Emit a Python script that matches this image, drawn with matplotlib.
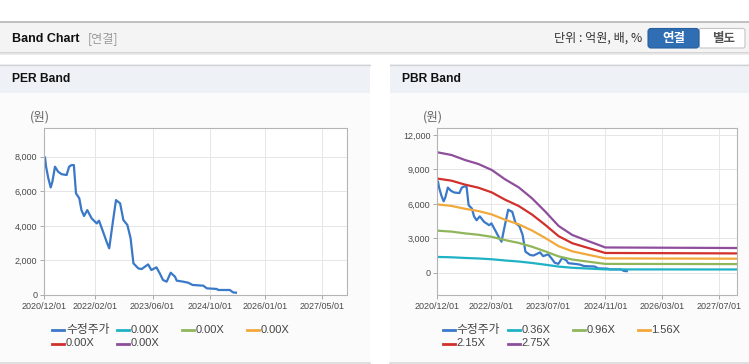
import matplotlib
matplotlib.use('Agg')
import matplotlib.pyplot as plt
from matplotlib.patches import Rectangle, FancyBboxPatch
from matplotlib.lines import Line2D
import numpy as np
import pandas as pd

KR = ['Noto Sans CJK KR', 'DejaVu Sans']
NUM = ['Liberation Sans', 'DejaVu Sans']
W, H = 749, 364

# adjusted share price (원)
price_dates = ['2020-12-01', '2020-12-07', '2020-12-16', '2021-01-04', '2021-01-24',
               '2021-02-07', '2021-03-01', '2021-03-28', '2021-04-25', '2021-06-07',
               '2021-06-28', '2021-07-19', '2021-08-07', '2021-08-25', '2021-09-22',
               '2021-10-10', '2021-11-01', '2021-11-28', '2022-01-04', '2022-02-16',
               '2022-03-07', '2022-04-10', '2022-05-10', '2022-06-01', '2022-06-28',
               '2022-07-28', '2022-09-01', '2022-09-28', '2022-11-01', '2022-11-28',
               '2022-12-22', '2023-02-01', '2023-03-01', '2023-04-25', '2023-05-22',
               '2023-07-04', '2023-08-01', '2023-08-28', '2023-09-28', '2023-11-01',
               '2023-12-07', '2023-12-22', '2024-02-15', '2024-03-28', '2024-05-04',
               '2024-08-01', '2024-09-01', '2024-11-22', '2024-12-07', '2025-03-13',
               '2025-04-10', '2025-05-04']
price_values = [8000, 7950, 7420, 6745, 6220,
                6550, 7420, 7130, 6990, 6940,
                7420, 7515, 7515, 5880, 5590,
                4910, 4570, 4910, 4430, 4140,
                4300, 3660, 3080, 2700, 4050,
                5490, 5300, 4340, 4050, 3280,
                1830, 1540, 1500, 1770, 1445,
                1600, 1250, 870, 770, 1290,
                1060, 830, 770, 710, 580,
                540, 385, 350, 290, 290,
                150, 135]

# book value per share used for the PBR bands
bps_dates = ['2020-12-01', '2021-04-01', '2021-07-25', '2021-11-16', '2022-03-10',
             '2022-07-01', '2022-10-25', '2023-02-16', '2023-06-10', '2023-10-01',
             '2024-01-25', '2024-05-16', '2024-09-07', '2024-11-01', '2027-12-01']
bps_values = [3816, 3730, 3571, 3445, 3255,
              2960, 2706, 2357, 1933, 1480,
              1195, 1036, 878, 800, 782]

pbr_multiples = [0.36, 0.96, 1.56, 2.15, 2.75]
per_multiples = [0.00, 0.00, 0.00, 0.00, 0.00]
price_label = '수정주가'
price_color = '#3a78c8'
band_colors = ['#1fb2c4', '#8fb65a', '#f2a93b', '#d1302c', '#8e4e9c']

per_xticks = ['2020/12/01', '2022/02/01', '2023/06/01', '2024/10/01', '2026/01/01', '2027/05/01']
pbr_xticks = ['2020/12/01', '2022/03/01', '2023/07/01', '2024/11/01', '2026/03/01', '2027/07/01']
per_yticks = [0, 2000, 4000, 6000, 8000]
pbr_yticks = [0, 3000, 6000, 9000, 12000]


def px_axes(fig, x0, y0, x1, y1, **kw):
    return fig.add_axes([x0 / W, 1 - y1 / H, (x1 - x0) / W, (y1 - y0) / H], **kw)


def style_axes(ax, xticks, yticks, xlim, ylim):
    ax.set_xlim(pd.to_datetime(xlim))
    ax.set_ylim(ylim)
    ax.set_xticks(pd.to_datetime(xticks))
    ax.set_xticklabels(xticks, fontsize=6.5, family=NUM, color='#4a4a4a')
    ax.set_yticks(yticks)
    ax.set_yticklabels(['{:,}'.format(v) for v in yticks], fontsize=6.5, family=NUM, color='#4a4a4a')
    ax.tick_params(axis='both', length=3, width=0.7, color='#aaaaaa', pad=2)
    ax.grid(True, color='#e6e6e6', linewidth=0.7)
    ax.set_axisbelow(True)
    for sp in ax.spines.values():
        sp.set_color('#b4b4b4')
        sp.set_linewidth(0.8)
    ax.set_facecolor('white')


def draw_legend(bg, x0, y0, labels, colors):
    for i, (lab, col) in enumerate(zip(labels, colors)):
        x = x0 + (i % 4) * 65
        y = y0 + (i // 4) * 13.5
        bg.add_line(Line2D([x, x + 12], [y, y], color=col, linewidth=2))
        if lab == price_label:
            bg.text(x + 14, y, lab, fontsize=8.5, family=KR, color='#444444',
                    va='center', ha='left')
        else:
            bg.text(x + 13.5, y, lab, fontsize=8, family=NUM, color='#444444',
                    va='center', ha='left')


def draw_panel(bg, x0, x1, title):
    bg.add_patch(Rectangle((x0, 93), x1 - x0, 269, facecolor='#fbfbfb', edgecolor='none'))
    bg.add_patch(Rectangle((x0, 64), x1 - x0, 29, facecolor='#eef2f7', edgecolor='none'))
    bg.add_line(Line2D([x0, x1], [64.5, 64.5], color='#d2d2d2', linewidth=1))
    bg.add_line(Line2D([x0, x1], [362.5, 362.5], color='#d9d9d9', linewidth=1.2))
    bg.text(x0 + 12, 79.5, title, fontsize=8.7, fontweight='bold', family=NUM,
            color='#111111', va='center', ha='left')
    bg.text(x0 + 40 if x0 == 0 else x0 + 43, 117.5, '(원)', fontsize=9, family=KR,
            color='#666666', va='center', ha='center')


fig = plt.figure(figsize=(W / 100, H / 100), dpi=100)
fig.patch.set_facecolor('white')

bg = fig.add_axes([0, 0, 1, 1], zorder=0)
bg.set_xlim(0, W)
bg.set_ylim(H, 0)
bg.axis('off')

# top header bar
bg.add_patch(Rectangle((0, 22), W, 30.5, facecolor='#f4f4f4', edgecolor='none'))
bg.add_line(Line2D([0, W], [22.3, 22.3], color='#b5b5b5', linewidth=1.2))
bg.add_line(Line2D([0, W], [53, 53], color='#cfcfcf', linewidth=1.2))
bg.add_line(Line2D([0, W], [54.3, 54.3], color='#e8e8e8', linewidth=1.2))
bg.text(12, 38.5, 'Band Chart', fontsize=9, fontweight='bold', family=NUM,
        color='#111111', va='center', ha='left')
bg.text(88, 38.5, '[연결]', fontsize=8.7, family=KR, color='#999999', va='center', ha='left')
bg.text(642, 38.5, '단위 : 억원, 배, %', fontsize=8.7, family=KR, color='#333333',
        va='center', ha='right')
bg.add_patch(FancyBboxPatch((699, 28.5), 46, 19.5, boxstyle='round,pad=0,rounding_size=2',
                            facecolor='white', edgecolor='#c4c4c4', linewidth=0.8))
bg.add_patch(FancyBboxPatch((648, 28.5), 51, 19.5, boxstyle='round,pad=0,rounding_size=3',
                            facecolor='#2f6eb3', edgecolor='#285f9c', linewidth=0.8))
bg.text(673.5, 38.5, '연결', fontsize=9, fontweight='bold', family=KR, color='white',
        va='center', ha='center')
bg.text(724, 38.5, '별도', fontsize=9, fontweight='bold', family=KR, color='#555555',
        va='center', ha='center')

draw_panel(bg, 0, 370, 'PER Band')
draw_panel(bg, 390, W, 'PBR Band')

p_dates = pd.to_datetime(price_dates)
b_dates = pd.to_datetime(bps_dates)

# PER band
ax1 = px_axes(fig, 44.3, 128, 347.3, 295, zorder=2)
ax1.plot(p_dates, price_values, color=price_color, linewidth=1.6)
style_axes(ax1, per_xticks, per_yticks, ['2020-12-01', '2027-11-28'], (0, 9660))
draw_legend(bg, 52, 330, [price_label] + ['{:.2f}X'.format(m) for m in per_multiples],
            [price_color] + band_colors)

# PBR band
ax2 = px_axes(fig, 437.3, 128, 737.3, 295, zorder=2)
ax2.plot(p_dates, price_values, color=price_color, linewidth=1.6)
for m, c in zip(pbr_multiples, band_colors):
    ax2.plot(b_dates, np.array(bps_values) * m, color=c, linewidth=1.6)
style_axes(ax2, pbr_xticks, pbr_yticks, ['2020-12-01', '2027-12-01'], (-1943, 12610))
draw_legend(bg, 442.7, 330, [price_label] + ['{:.2f}X'.format(m) for m in pbr_multiples],
            [price_color] + band_colors)

fig.savefig('out.png', dpi=100)
